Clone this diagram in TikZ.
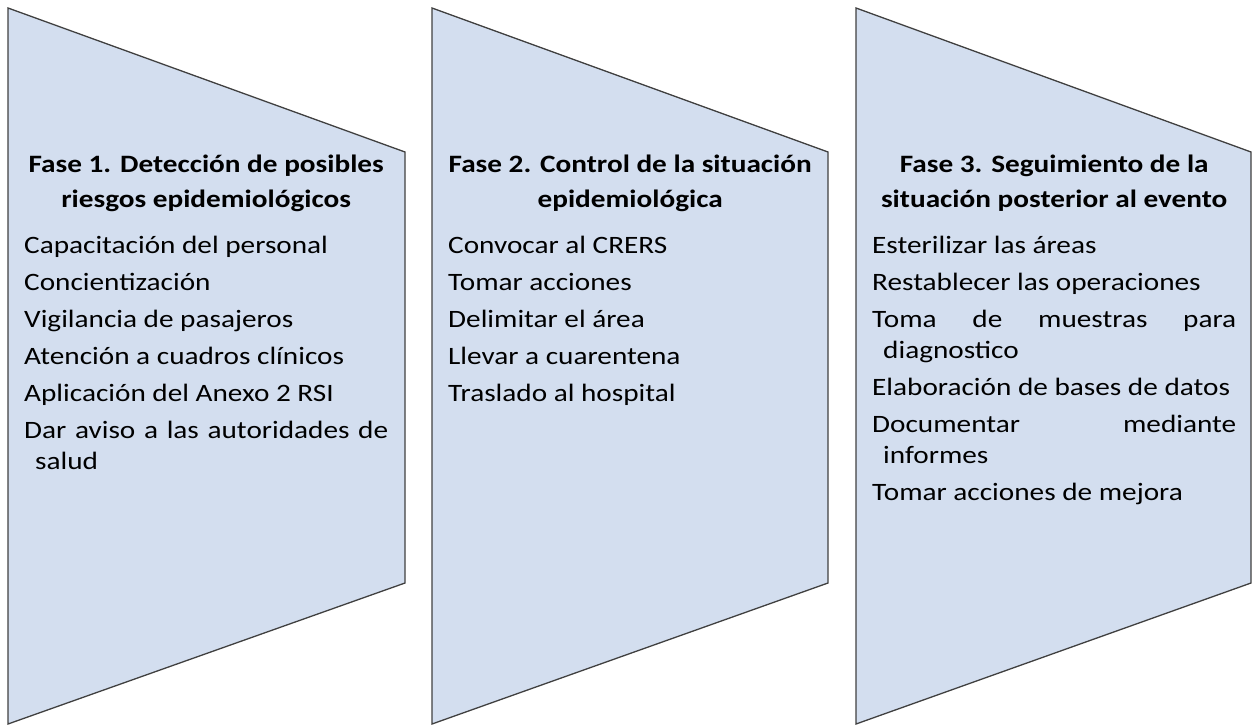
\documentclass[tikz,border=0pt]{standalone}
\usepackage{fontspec}
\setmainfont{Carlito}[FakeStretch=1.17]
\definecolor{phasefill}{RGB}{211,222,239}
\definecolor{phaseline}{RGB}{64,64,64}
\newcommand\phitem[1]{\hangindent=11pt\hangafter=1\noindent #1\par}
\newcommand\phhead[2]{{\bfseries\centering\baselineskip=35pt #1\\#2\par}\vspace{9pt}}
\begin{document}
\begin{tikzpicture}[x=1pt,y=-1pt,
  phase/.style={fill=phasefill, draw=phaseline, line width=1.3pt, line join=miter},
  txt/.style={anchor=base west, inner sep=0pt, text width=364pt, align=justify,
    font=\fontsize{25}{31}\selectfont, execute at begin node={\setlength{\parskip}{6pt}\hyphenpenalty=10000\tolerance=10000}}]
\useasboundingbox (0,0) rectangle (1252,726);
\draw[phase] (8,8) -- (405,152) -- (405,583) -- (8,724) -- cycle;
\draw[phase] (432,8) -- (828,152) -- (828,583) -- (432,724) -- cycle;
\draw[phase] (856,8) -- (1251,152) -- (1251,583) -- (856,724) -- cycle;
\node[txt] (t1) at (24,172) {\phhead{Fase 1. Detección de posibles}{riesgos epidemiológicos}%
\phitem{Capacitación del personal}
\phitem{Concientización}
\phitem{Vigilancia de pasajeros}
\phitem{Atención a cuadros clínicos}
\phitem{Aplicación del Anexo 2 RSI}
\phitem{Dar aviso a las autoridades de\linebreak salud}};
\node[txt] (t2) at (448,172) {\phhead{Fase 2. Control de la situación}{epidemiológica}%
\phitem{Convocar al CRERS}
\phitem{Tomar acciones}
\phitem{Delimitar el área}
\phitem{Llevar a cuarentena}
\phitem{Traslado al hospital}};
\node[txt] (t3) at (872,172) {\phhead{Fase 3. Seguimiento de la}{situación posterior al evento}%
\phitem{Esterilizar las áreas}
\phitem{Restablecer las operaciones}
\phitem{Toma de muestras para\linebreak diagnostico}
\phitem{Elaboración de bases de datos}
\phitem{Documentar mediante\linebreak informes}
\phitem{Tomar acciones de mejora}};
\end{tikzpicture}
\end{document}
